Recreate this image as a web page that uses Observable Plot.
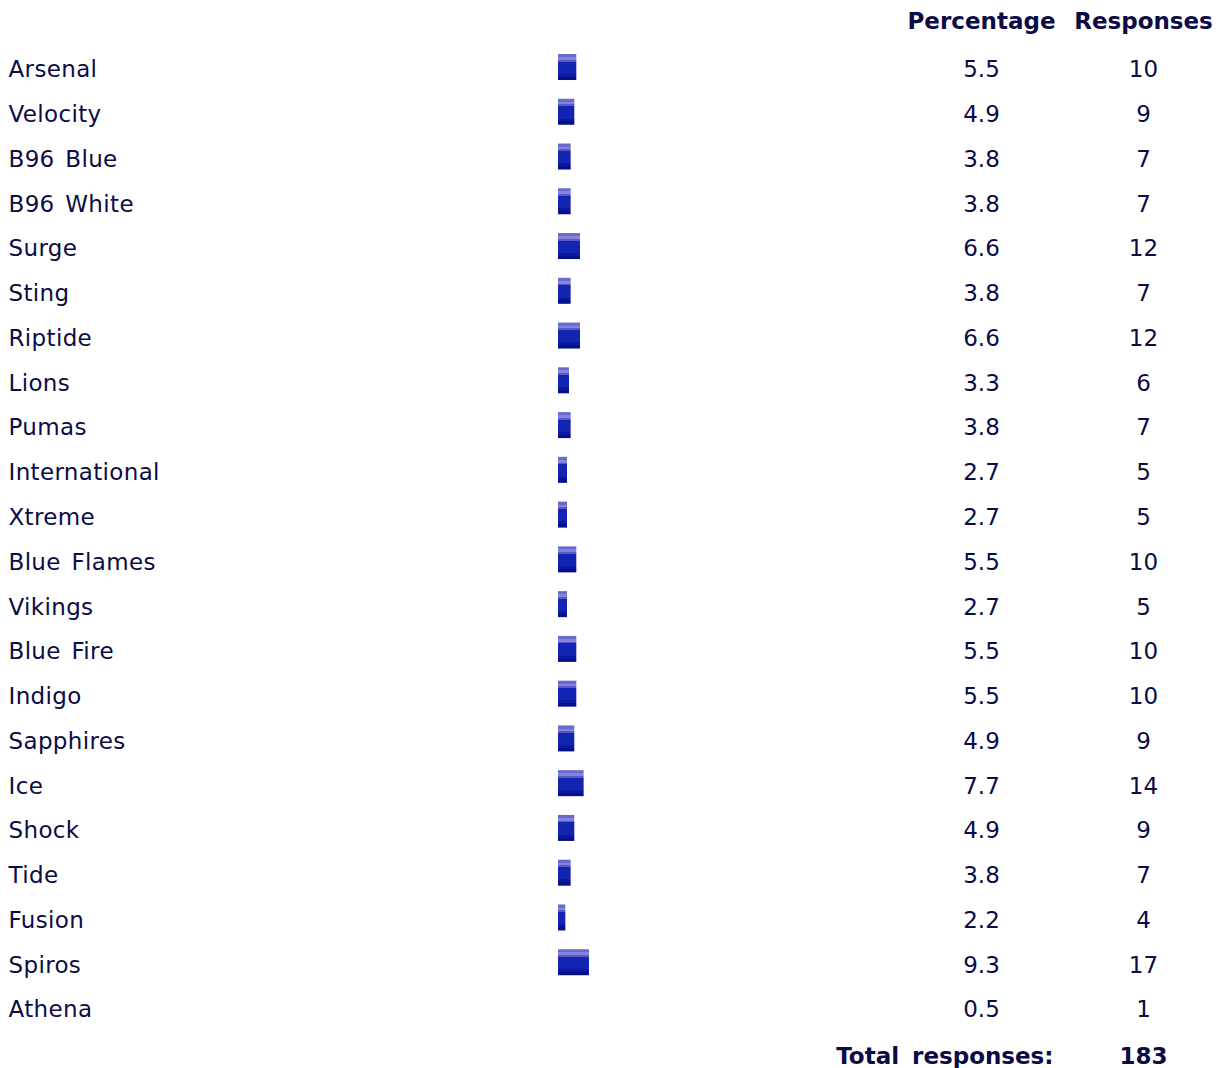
<!DOCTYPE html>
<html><head><meta charset="utf-8">
<script src="https://cdn.jsdelivr.net/npm/d3@7"></script>
<script src="https://cdn.jsdelivr.net/npm/@observablehq/plot@0.6"></script>
<style>
body{margin:0;background:#fff}
.wide text{letter-spacing:0.35px;word-spacing:3px}
.wideb text{word-spacing:5px}
</style>
</head><body><div id="chart"></div>
<script>
const teams = ["Arsenal","Velocity","B96 Blue","B96 White","Surge","Sting","Riptide","Lions","Pumas","International","Xtreme","Blue Flames","Vikings","Blue Fire","Indigo","Sapphires","Ice","Shock","Tide","Fusion","Spiros","Athena"];
const percentages = [5.5,4.9,3.8,3.8,6.6,3.8,6.6,3.3,3.8,2.7,2.7,5.5,2.7,5.5,5.5,4.9,7.7,4.9,3.8,2.2,9.3,0.5];
const responses = [10,9,7,7,12,7,12,6,7,5,5,10,5,10,10,9,14,9,7,4,17,1];
const headers = ["Percentage","Responses"];
const totalLabel = "Total responses:";

const data = teams.map((team,i)=>({team, pct: percentages[i], n: responses[i]}));
const total = d3.sum(responses);
const font = "'DejaVu Sans', Verdana, sans-serif";
const ink = "#0b0b45";

const chart = Plot.plot({
  width: 1225, height: 1068, margin: 0,
  style: {fontFamily: font, fontSize: "23px", color: ink, background: "#fff"},
  x: {domain: [0, 100], range: [558, 558 + 333], axis: null},
  y: {type: "band", domain: teams, range: [35.24, 1038.74], padding: 0.419, round: false, axis: null},
  marks: [
    Plot.barX(data.filter(d => d.n > 1), {x1: 0, x2: "pct", y: "team", fill: "url(#barGrad)"}),
    Plot.text(data, {y: "team", text: "team", frameAnchor: "left", dx: 8, dy: 2.5, textAnchor: "start", fill: ink, fontSize: 23, className: "wide"}),
    Plot.text(data, {y: "team", text: d => d.pct.toFixed(1), frameAnchor: "left", dx: 981, dy: 2.5, textAnchor: "middle", fill: ink, fontSize: 23}),
    Plot.text(data, {y: "team", text: d => String(d.n), frameAnchor: "left", dx: 1143, dy: 2.5, textAnchor: "middle", fill: ink, fontSize: 23}),
    Plot.text([headers[0]], {text: d => d, frameAnchor: "top-left", dx: 981, dy: 28, lineAnchor: "bottom", textAnchor: "middle", fontWeight: "bold", fill: ink, fontSize: 23}),
    Plot.text([headers[1]], {text: d => d, frameAnchor: "top-left", dx: 1143, dy: 28, lineAnchor: "bottom", textAnchor: "middle", fontWeight: "bold", fill: ink, fontSize: 23}),
    Plot.text([totalLabel], {text: d => d, frameAnchor: "top-left", dx: 1053, dy: 1063, lineAnchor: "bottom", textAnchor: "end", fontWeight: "bold", fill: ink, fontSize: 23, className: "wideb"}),
    Plot.text([total], {text: d => String(d), frameAnchor: "top-left", dx: 1143, dy: 1063, lineAnchor: "bottom", textAnchor: "middle", fontWeight: "bold", fill: ink, fontSize: 23})
  ]
});

d3.select(chart).insert("defs", ":first-child").html(`
  <linearGradient id="barGrad" x1="0" y1="0" x2="0" y2="1">
    <stop offset="0" stop-color="#6a6acc"/>
    <stop offset="0.12" stop-color="#6a6acc"/>
    <stop offset="0.12" stop-color="#8484da"/>
    <stop offset="0.22" stop-color="#8484da"/>
    <stop offset="0.22" stop-color="#5858c6"/>
    <stop offset="0.29" stop-color="#5858c6"/>
    <stop offset="0.29" stop-color="#1224b2"/>
    <stop offset="0.76" stop-color="#1224b2"/>
    <stop offset="0.76" stop-color="#0a1aa0"/>
    <stop offset="0.87" stop-color="#0a1aa0"/>
    <stop offset="0.87" stop-color="#04108a"/>
    <stop offset="1" stop-color="#04108a"/>
  </linearGradient>`);

document.getElementById("chart").appendChild(chart);
</script>
</body></html>
